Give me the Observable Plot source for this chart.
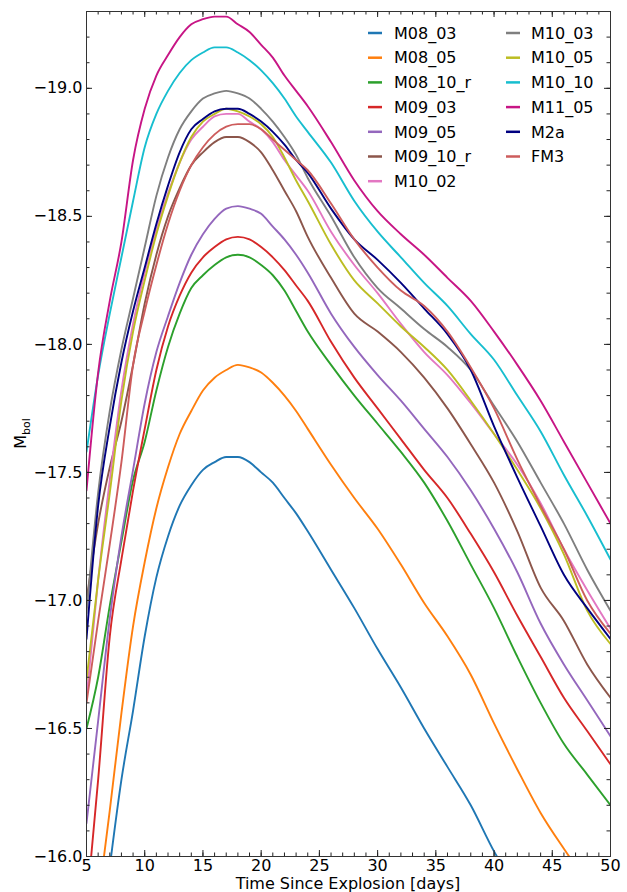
<!DOCTYPE html>
<html>
<head>
<meta charset="utf-8">
<script src="https://cdn.jsdelivr.net/npm/d3@7"></script>
<script src="https://cdn.jsdelivr.net/npm/@observablehq/plot@0.6"></script>
<style>
  html, body { margin: 0; padding: 0; background: #fff; }
  #chart { width: 627px; height: 892px; }
</style>
</head>
<body>
<div id="chart"></div>
<script>
// ---- data ----
const days = [5,6,7,8,9,10,11,12,13,14,15,16,17,18,19,20,21,22,23,24,26,28,30,32,34,36,38,40,42,44,46,48,50];

const M08_03   = [null,null,-15.96,-16.3,-16.57,-16.86,-17.09,-17.25,-17.37,-17.45,-17.51,-17.54,-17.56,-17.56,-17.54,-17.5,-17.46,-17.4,-17.34,-17.27,-17.12,-16.97,-16.81,-16.66,-16.5,-16.35,-16.2,-16.02,-15.87,null,null,null,null];
const M08_05   = [null,-15.82,-16.18,-16.56,-16.9,-17.15,-17.36,-17.52,-17.65,-17.74,-17.82,-17.87,-17.9,-17.92,-17.91,-17.89,-17.85,-17.8,-17.74,-17.67,-17.53,-17.4,-17.28,-17.14,-16.99,-16.86,-16.71,-16.52,-16.34,-16.17,-16.03,-15.9,null];
const M08_10_r = [-16.5,-16.7,-16.98,-17.23,-17.47,-17.62,-17.82,-17.99,-18.12,-18.22,-18.27,-18.31,-18.34,-18.35,-18.34,-18.31,-18.27,-18.21,-18.13,-18.05,-17.92,-17.8,-17.69,-17.58,-17.46,-17.31,-17.14,-16.97,-16.78,-16.6,-16.44,-16.32,-16.2];
const M09_03   = [-15.8,-16.3,-16.86,-17.16,-17.43,-17.67,-17.9,-18.07,-18.19,-18.28,-18.34,-18.38,-18.41,-18.42,-18.41,-18.38,-18.34,-18.29,-18.23,-18.17,-18.01,-17.87,-17.75,-17.63,-17.51,-17.4,-17.26,-17.11,-16.94,-16.78,-16.62,-16.49,-16.36];
const M09_05   = [-16.13,-16.53,-16.93,-17.25,-17.51,-17.77,-17.97,-18.11,-18.24,-18.35,-18.43,-18.49,-18.53,-18.54,-18.53,-18.51,-18.46,-18.41,-18.35,-18.28,-18.12,-17.99,-17.88,-17.78,-17.67,-17.56,-17.43,-17.28,-17.11,-16.91,-16.75,-16.61,-16.47];
const M09_10_r = [-17.0,-17.3,-17.52,-17.7,-17.92,-18.16,-18.35,-18.5,-18.61,-18.7,-18.75,-18.79,-18.81,-18.81,-18.79,-18.75,-18.68,-18.6,-18.52,-18.42,-18.26,-18.12,-18.05,-17.97,-17.87,-17.75,-17.61,-17.46,-17.27,-17.05,-16.92,-16.75,-16.62];
const M10_02   = [-16.62,-17.08,-17.47,-17.82,-18.08,-18.28,-18.45,-18.59,-18.71,-18.8,-18.85,-18.89,-18.9,-18.9,-18.87,-18.84,-18.79,-18.72,-18.66,-18.6,-18.44,-18.31,-18.2,-18.08,-17.97,-17.88,-17.77,-17.65,-17.53,-17.38,-17.2,-17.04,-16.89];
const M10_03   = [-16.95,-17.42,-17.74,-17.98,-18.18,-18.38,-18.58,-18.73,-18.84,-18.91,-18.96,-18.98,-18.99,-18.98,-18.96,-18.92,-18.87,-18.81,-18.74,-18.65,-18.5,-18.34,-18.22,-18.14,-18.06,-17.99,-17.9,-17.76,-17.62,-17.46,-17.3,-17.12,-16.96];
const M10_05   = [-16.69,-17.08,-17.42,-17.78,-18.05,-18.25,-18.43,-18.58,-18.71,-18.81,-18.87,-18.9,-18.92,-18.91,-18.89,-18.86,-18.81,-18.73,-18.64,-18.56,-18.39,-18.25,-18.16,-18.07,-17.99,-17.9,-17.78,-17.65,-17.51,-17.36,-17.18,-16.96,-16.83];
const M10_10   = [-17.58,-17.88,-18.12,-18.34,-18.56,-18.77,-18.9,-18.99,-19.06,-19.11,-19.14,-19.16,-19.16,-19.14,-19.11,-19.07,-19.02,-18.96,-18.89,-18.83,-18.71,-18.56,-18.44,-18.34,-18.24,-18.15,-18.04,-17.94,-17.8,-17.66,-17.49,-17.33,-17.16];
const M11_05   = [-17.43,-17.89,-18.17,-18.4,-18.72,-18.92,-19.05,-19.13,-19.2,-19.25,-19.27,-19.28,-19.28,-19.25,-19.22,-19.17,-19.12,-19.05,-18.99,-18.93,-18.79,-18.64,-18.52,-18.43,-18.35,-18.26,-18.17,-18.05,-17.92,-17.78,-17.62,-17.46,-17.3];
const M2a      = [-16.85,-17.37,-17.68,-17.93,-18.13,-18.3,-18.47,-18.62,-18.75,-18.84,-18.88,-18.91,-18.92,-18.92,-18.9,-18.87,-18.83,-18.78,-18.72,-18.67,-18.53,-18.41,-18.33,-18.24,-18.14,-18.04,-17.9,-17.68,-17.48,-17.29,-17.1,-16.97,-16.85];
const FM3      = [-16.6,-16.92,-17.22,-17.54,-17.92,-18.13,-18.31,-18.47,-18.6,-18.7,-18.77,-18.82,-18.85,-18.86,-18.86,-18.84,-18.8,-18.76,-18.72,-18.68,-18.55,-18.41,-18.3,-18.21,-18.15,-18.05,-17.91,-17.75,-17.55,-17.37,-17.2,-17.0,-16.87];

const names  = ["M08_03","M08_05","M08_10_r","M09_03","M09_05","M09_10_r","M10_02","M10_03","M10_05","M10_10","M11_05","M2a","FM3"];
const values = [M08_03,M08_05,M08_10_r,M09_03,M09_05,M09_10_r,M10_02,M10_03,M10_05,M10_10,M11_05,M2a,FM3];
const colors = ["#1f77b4","#ff7f0e","#2ca02c","#d62728","#9467bd","#8c564b","#e377c2","#7f7f7f","#bcbd22","#17becf","#c71585","#000080","#cd5c5c"];

const xMajor = [5,10,15,20,25,30,35,40,45,50];
const yMajor = [-16,-16.5,-17,-17.5,-18,-18.5,-19];
const xMinor = d3.range(5, 50.01, 1);
const yMinor = d3.range(-16, -19.31, -0.1);

const xTitle = "Time Since Explosion [days]";
const yTitle = "M";
const ySub = "bol";

// ---- build tidy table ----
const data = [];
names.forEach((n, k) => {
  values[k].forEach((v, i) => data.push({name: n, day: days[i], mag: v}));
});

const W = 627, H = 892, mL = 86, mR = 17, mT = 11, mB = 36;
const fw = W - mL - mR, fh = H - mT - mB;
const tickColor = "#222";

const svg = Plot.plot({
  width: W, height: H,
  marginLeft: mL, marginRight: mR, marginTop: mT, marginBottom: mB,
  style: {fontFamily: "'DejaVu Sans', sans-serif", fontSize: "16px", background: "#fff", color: "#000", overflow: "visible"},
  x: {domain: [5, 50], ticks: xMajor, tickSize: 0, tickPadding: 3, label: null, tickFormat: d => String(d)},
  y: {domain: [-16, -19.3], ticks: yMajor, tickSize: 0, tickPadding: 4, label: null, tickFormat: d3.format(".1f")},
  color: {domain: names, range: colors},
  marks: [
    Plot.line(data, {x: "day", y: "mag", z: "name", stroke: "name", strokeWidth: 1.9, curve: "monotone-x", clip: true}),
    // inward ticks: bottom / top
    Plot.tickX(xMajor, {x: d => d, insetTop: fh - 6, stroke: tickColor}),
    Plot.tickX(xMinor, {x: d => d, insetTop: fh - 3.5, stroke: tickColor}),
    Plot.tickX(xMajor, {x: d => d, insetBottom: fh - 6, stroke: tickColor}),
    Plot.tickX(xMinor, {x: d => d, insetBottom: fh - 3.5, stroke: tickColor}),
    // inward ticks: left / right
    Plot.tickY(yMajor, {y: d => d, insetRight: fw - 6, stroke: tickColor}),
    Plot.tickY(yMinor, {y: d => d, insetRight: fw - 3.5, stroke: tickColor}),
    Plot.tickY(yMajor, {y: d => d, insetLeft: fw - 6, stroke: tickColor}),
    Plot.tickY(yMinor, {y: d => d, insetLeft: fw - 3.5, stroke: tickColor}),
    Plot.frame({stroke: "#333", strokeWidth: 1})
  ]
});

document.getElementById("chart").appendChild(svg);

const s = d3.select(svg);
// x title
s.append("text")
  .attr("x", mL + fw / 2).attr("y", 889)
  .attr("text-anchor", "middle")
  .attr("font-size", 16).attr("fill", "#000")
  .text(xTitle);
// y title with subscript
const yt = s.append("text")
  .attr("transform", `translate(26,${mT + fh / 2}) rotate(-90)`)
  .attr("text-anchor", "middle")
  .attr("font-size", 16).attr("fill", "#000");
yt.append("tspan").text(yTitle);
yt.append("tspan").attr("font-size", 11).attr("dy", 4).text(ySub);

// legend (inside the plot, two columns)
const leg = s.append("g").attr("text-anchor", "start");
const rowY0 = 33, rowDy = 24.7;
const cols = [{lx: 368, tx: 394, start: 0, n: 7}, {lx: 506, tx: 531, start: 7, n: 6}];
cols.forEach(c => {
  for (let i = 0; i < c.n; i++) {
    const k = c.start + i;
    const y = rowY0 + i * rowDy;
    leg.append("line").attr("x1", c.lx).attr("x2", c.lx + 14).attr("y1", y).attr("y2", y)
      .attr("stroke", colors[k]).attr("stroke-width", 2.5);
    leg.append("text").attr("x", c.tx).attr("y", y).attr("dy", "0.36em")
      .attr("text-anchor", "start")
      .attr("font-size", 16).attr("fill", "#000").text(names[k]);
  }
});
</script>
</body>
</html>
